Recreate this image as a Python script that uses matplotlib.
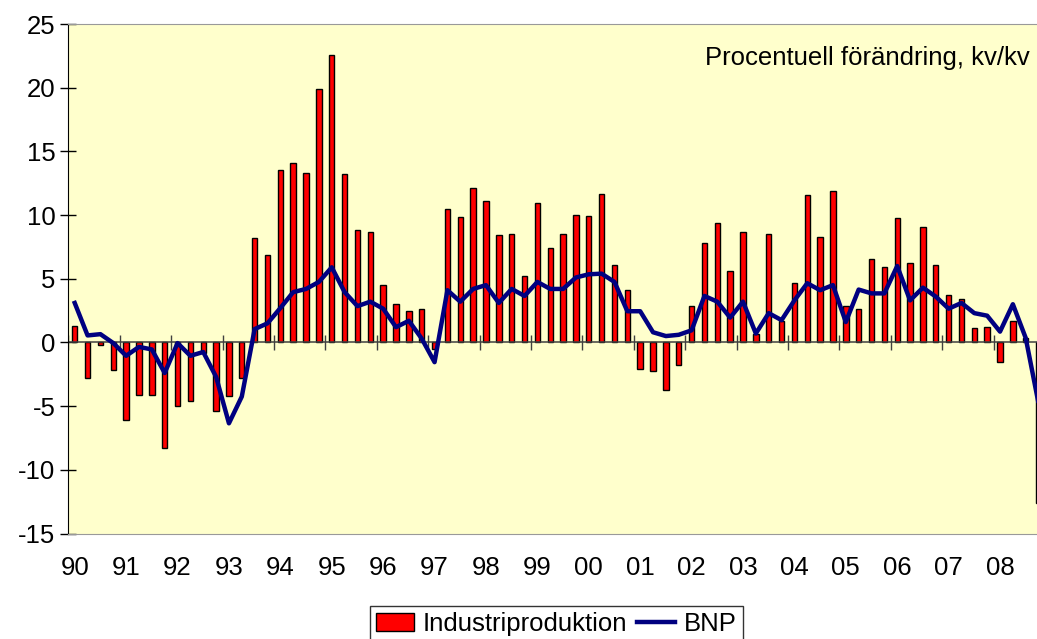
import numpy as np
import matplotlib
matplotlib.use("Agg")
import matplotlib.pyplot as plt

plt.rcParams['font.family'] = ['Liberation Sans', 'DejaVu Sans']
plt.rcParams['axes.unicode_minus'] = False

# quarterly, 1990 Q1 - 2008 Q4
years = ['90', '91', '92', '93', '94', '95', '96', '97', '98', '99',
         '00', '01', '02', '03', '04', '05', '06', '07', '08']

industri = [1.3, -2.8, -0.2, -2.2,
            -6.1, -4.1, -4.1, -8.3,
            -5.0, -4.6, -0.8, -5.4,
            -4.2, -2.8, 8.2, 6.9,
            13.5, 14.1, 13.3, 19.9,
            22.6, 13.2, 8.8, 8.65,
            4.5, 3.0, 2.5, 2.65,
            -0.5, 10.5, 9.85, 12.15,
            11.1, 8.4, 8.5, 5.2,
            10.95, 7.45, 8.55, 10.0,
            9.95, 11.65, 6.1, 4.15,
            -2.1, -2.25, -3.7, -1.75,
            2.85, 7.8, 9.35, 5.6,
            8.7, 0.7, 8.55, 1.7,
            4.7, 11.6, 8.25, 11.9,
            2.85, 2.6, 6.55, 5.9,
            9.8, 6.2, 9.1, 6.05,
            3.7, 3.4, 1.15, 1.25,
            -1.55, 1.7, 0.35, -12.6]

bnp = [3.1, 0.55, 0.65, -0.05,
       -1.05, -0.35, -0.55, -2.4,
       -0.05, -1.05, -0.75, -2.7,
       -6.35, -4.25, 1.05, 1.5,
       2.7, 3.95, 4.2, 4.75,
       5.9, 3.95, 2.85, 3.2,
       2.65, 1.2, 1.7, 0.3,
       -1.55, 4.1, 3.2, 4.2,
       4.5, 3.1, 4.2, 3.65,
       4.75, 4.2, 4.2, 5.1,
       5.35, 5.4, 4.75, 2.45,
       2.45, 0.8, 0.5, 0.6,
       0.95, 3.65, 3.2, 1.95,
       3.2, 0.7, 2.3, 1.75,
       3.3, 4.65, 4.1, 4.5,
       1.6, 4.15, 3.85, 3.85,
       6.0, 3.3, 4.3, 3.6,
       2.65, 3.1, 2.3, 2.1,
       0.85, 3.0, 0.35, -4.8]

x = np.arange(len(industri))

fig = plt.figure(figsize=(10.37, 6.39), dpi=100)
ax = fig.add_axes([68.3 / 1037, 1 - 533.5 / 639, (1045 - 68.3) / 1037, (533.5 - 24) / 639])
ax.set_facecolor('#FFFFCC')

bars = ax.bar(x, industri, width=0.42, color='#FF0000', edgecolor='black', linewidth=1,
              label='Industriproduktion', zorder=2)
ax.axhline(0, color='#404040', lw=1.1, zorder=2.5)
ax.vlines(np.arange(-0.5, len(x), 4), -0.6, 0.6, color='#404040', lw=1, zorder=2.5)
line, = ax.plot(x, bnp, color='#000080', lw=3.2, label='BNP', zorder=3)

ax.set_xlim(-0.5, len(x) - 0.5)
ax.set_ylim(-15, 25)
ax.set_yticks(range(-15, 26, 5))
ax.set_xticks(x[::4])
ax.set_xticklabels(years)
ax.tick_params(axis='x', length=0, pad=16, labelsize=18.5)
ax.tick_params(axis='y', direction='inout', length=11.5, width=1, pad=3.6, labelsize=18.5)

for s in ['top', 'bottom', 'right']:
    ax.spines[s].set_color('#999999')
ax.spines['left'].set_color('black')

fig.text(1030 / 1037, 1 - 65 / 639, 'Procentuell förändring, kv/kv', ha='right',
         va='baseline', fontsize=18.5)

leg = fig.legend([bars, line], ['Industriproduktion', 'BNP'], loc='upper center',
                 bbox_to_anchor=(556.5 / 1037, 1 - 606 / 639), ncol=2,
                 fontsize=18.5, frameon=True, fancybox=False, handlelength=1.45,
                 handletextpad=0.35, columnspacing=0.4, borderpad=0.25, borderaxespad=0)
leg.get_frame().set_edgecolor('black')
leg.get_frame().set_linewidth(1)

fig.savefig('out.png', dpi=100)
